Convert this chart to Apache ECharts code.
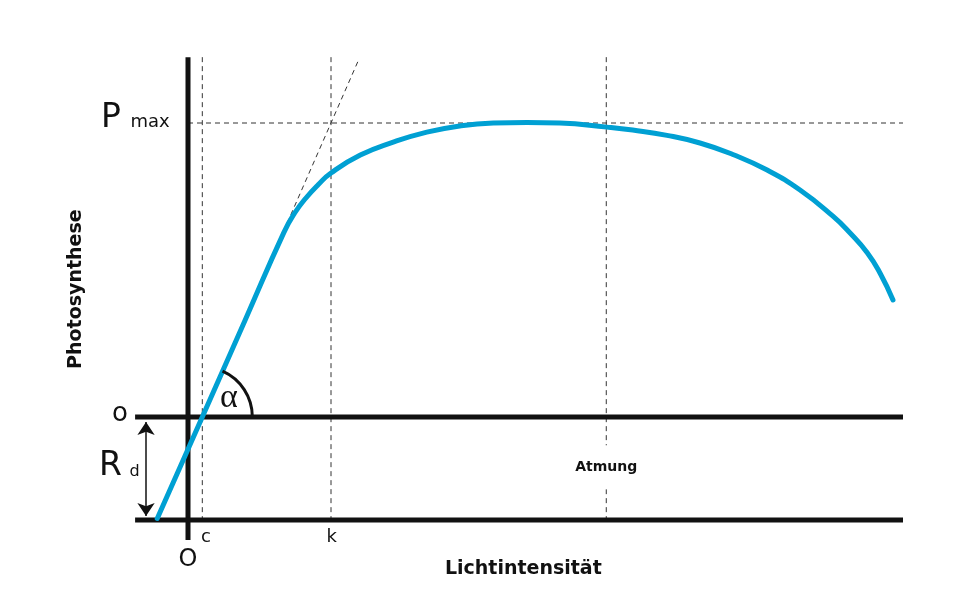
<!DOCTYPE html>
<html>
<head>
<meta charset="utf-8">
<script src="https://cdn.jsdelivr.net/npm/echarts@6/dist/echarts.min.js"></script>
<style>html,body{margin:0;padding:0;background:#fff}#c{width:973px;height:615px}</style>
</head>
<body>
<div id="c"></div>
<script>
// Light-response curve (x: light intensity, y: photosynthesis; Pmax = 100)
const lightValues = [-4.3, 2, 8, 13.4, 14.9, 16.5, 18.2, 20, 24.1, 28.7, 33.4, 38, 42.7, 47.4, 52, 58.6, 62.2, 67, 71.6, 76.2, 81, 85.6, 90.2, 92.6, 95, 96.8, 98.6];
const photoValues = [-34.5, 0, 33, 62.7, 69.3, 74.5, 79, 83, 89.1, 93.5, 96.9, 99, 100, 100.2, 100, 98.6, 97.6, 95.8, 93.2, 89.3, 84.0, 77.2, 68.3, 62.6, 55.9, 48.9, 39.8];

// Key reference values
const pointC = 2;        // compensation point
const pointK = 20;       // saturation onset
const pointAtmung = 58.5;
const pMax = 100;
const rD = -35;          // dark respiration level
const xStart = -7.4, xEnd = 100;
const yTop = 122.4, yAxisBottom = -41.8;
const tangentX = [-4.3, 23.85];
const tangentY = [-35, 121.4];

const curve = lightValues.map((x, i) => [x, photoValues[i]]);

const BLACK = '#111';
const BLUE = '#00a0d3';
const DASH = '#333';

function solid(data, z) {
  return { type: 'line', data, symbol: 'none', silent: true, z: z || 3,
    lineStyle: { color: BLACK, width: 5, cap: 'butt' } };
}
function dashed(data) {
  return { type: 'line', data, symbol: 'none', silent: true, z: 1,
    lineStyle: { color: DASH, width: 1, type: [5, 4] } };
}

const annotations = [
  { text: 'P', x: -10.77, y: 101.7, size: 33 },
  { text: 'max', x: -5.31, y: 100.3, size: 18 },
  { text: 'o', x: -9.5, y: 0.9, size: 26 },
  { text: 'R', x: -10.84, y: -16.7, size: 33 },
  { text: 'd', x: -7.48, y: -18.7, size: 16 },
  { text: 'O', x: 0, y: -48.4, size: 24 },
  { text: 'c', x: 2.52, y: -40.8, size: 18 },
  { text: 'k', x: 20.1, y: -40.8, size: 18 },
  { text: 'α', x: 5.73, y: 6.6, size: 34, family: '"Liberation Serif", "DejaVu Serif", serif' },
  { text: 'Atmung', x: pointAtmung, y: -17.1, size: 14, bold: true, bg: true },
  { text: 'Lichtintensität', x: 46.9, y: -51.6, size: 19, bold: true },
  { text: 'Photosynthese', x: -15.7, y: 43.5, size: 19, bold: true, rotate: true }
];

const chart = echarts.init(document.getElementById('c'), null, { renderer: 'canvas' });
chart.setOption({
  animation: false,
  backgroundColor: '#fff',
  grid: { left: 45, right: 70, top: 34.8, bottom: 21.6 },
  xAxis: { type: 'value', min: -20, max: 100, show: false },
  yAxis: { type: 'value', min: -60, max: 130, show: false },
  series: [
    dashed([[pointC, yTop], [pointC, rD]]),
    dashed([[pointK, yTop], [pointK, rD]]),
    dashed([[pointAtmung, yTop], [pointAtmung, rD]]),
    dashed([[0, pMax], [xEnd, pMax]]),
    dashed([[tangentX[0], tangentY[0]], [tangentX[1], tangentY[1]]]),
    solid([[0, yTop], [0, yAxisBottom]]),
    solid([[xStart, 0], [xEnd, 0]]),
    solid([[xStart, rD], [xEnd, rD]]),
    {
      type: 'line', data: curve, symbol: 'none', smooth: 0.5, silent: true, z: 5,
      lineStyle: { color: BLUE, width: 5, cap: 'round', join: 'round' }
    },
    {
      type: 'lines', coordinateSystem: 'cartesian2d', silent: true, z: 4,
      symbol: ['arrow', 'arrow'], symbolSize: 13,
      lineStyle: { color: BLACK, width: 1.5, opacity: 1 },
      data: [{ coords: [[-5.87, -1.7], [-5.87, -33.7]] }]
    },
    {
      type: 'custom', silent: true, z: 6, clip: false,
      data: [[pointC, 0, 7]],
      renderItem: function (params, api) {
        const c = api.coord([api.value(0), api.value(1)]);
        const e = api.coord([api.value(0) + api.value(2), api.value(1)]);
        const p = api.coord([lightValues[2], photoValues[2]]);
        const ang = Math.atan2(p[1] - c[1], p[0] - c[0]);
        return {
          type: 'arc',
          shape: { cx: c[0], cy: c[1], r: e[0] - c[0], startAngle: ang, endAngle: 0, clockwise: true },
          style: { stroke: BLACK, lineWidth: 3, fill: null }
        };
      }
    },
    {
      type: 'custom', silent: true, z: 10, clip: false,
      data: annotations.map((a, i) => [a.x, a.y, i]),
      renderItem: function (params, api) {
        const a = annotations[api.value(2)];
        const pt = api.coord([api.value(0), api.value(1)]);
        const style = {
          text: a.text,
          fill: BLACK,
          fontSize: a.size,
          fontFamily: a.family || '"DejaVu Sans", Verdana, sans-serif',
          fontWeight: a.bold ? 'bold' : 'normal',
          align: 'center',
          verticalAlign: 'middle'
        };
        if (a.bg) { style.backgroundColor = '#fff'; style.padding = [15, 3]; }
        return {
          type: 'text', x: pt[0], y: pt[1],
          rotation: a.rotate ? Math.PI / 2 : 0,
          style: style
        };
      }
    }
  ]
});
</script>
</body>
</html>
